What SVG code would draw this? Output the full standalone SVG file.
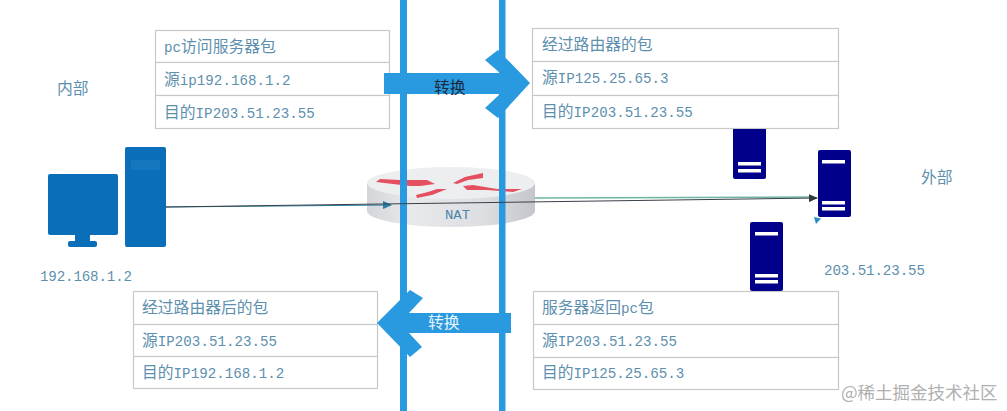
<svg xmlns="http://www.w3.org/2000/svg" width="1007" height="411" viewBox="0 0 1007 411">
<style>
text{font-family:"Liberation Mono","Noto Sans CJK SC",monospace;font-size:14.200px;fill:#5d8fae}
.c{font-family:"Noto Sans CJK SC","Liberation Sans",sans-serif;font-size:15.800px}
.cell{fill:#fff;stroke:#c8c8c8;stroke-width:1.200}
.bar{fill:#2a9ae0}
.srv{fill:#00008b}
.st{fill:#fff}
.pc{fill:#0a6fb8}
</style>
<defs>
<marker id="ad" markerWidth="9" markerHeight="8" refX="8" refY="4" orient="auto" markerUnits="userSpaceOnUse"><path d="M0 0L9 4L0 8Z" fill="#2f3a3a"/></marker>
<marker id="ab" markerWidth="9" markerHeight="8" refX="8" refY="4" orient="auto" markerUnits="userSpaceOnUse"><path d="M0 0L9 4L0 8Z" fill="#2a7fa8"/></marker>
<linearGradient id="side"><stop offset="0" stop-color="#d3d5d9"/><stop offset=".25" stop-color="#e8e9eb"/><stop offset=".7" stop-color="#dcdee1"/><stop offset="1" stop-color="#c4c6cb"/></linearGradient>
</defs>
<rect width="1007" height="411" fill="#fff"/>

<g id="router">
<path d="M367 183V211A84 16 0 0 0 535 211V183Z" fill="url(#side)"/>
<ellipse cx="451" cy="183" rx="84" ry="16" fill="#eceef0"/>
<g fill="#e4505f">
<path d="M376 182L380 179L400 180L427 180L435 184L420 186L410 186Z"/>
<path d="M416 195L417 198L432 195L447 189L437 189L428 192Z"/>
<path d="M453 183L465 177L483 173L483 178L468 180L457 184Z"/>
<path d="M463 186L473 185L497 189L522 189L513 192L487 190L467 190Z"/>
</g>
<text x="445" y="219" style="font-size:13px;fill:#4f86a8" textLength="25" lengthAdjust="spacingAndGlyphs">NAT</text>
</g>

<g id="divider-left"><rect class="bar" x="400" y="0" width="7" height="411"/></g>
<g id="divider-right"><rect class="bar" x="499" y="0" width="6.500" height="411"/></g>

<g id="box-pc-to-server">
<rect class="cell" x="155.500" y="30.500" width="234" height="32"/>
<rect class="cell" x="155.500" y="62.500" width="234" height="33"/>
<rect class="cell" x="155.500" y="95.500" width="234" height="33"/>
<text x="164" y="52">pc<tspan class="c">访问服务器包</tspan></text>
<text x="164" y="85"><tspan class="c">源</tspan>ip192.168.1.2</text>
<text x="164" y="118"><tspan class="c">目的</tspan>IP203.51.23.55</text>
</g>
<g id="box-after-router">
<rect class="cell" x="532.500" y="28.500" width="306" height="33"/>
<rect class="cell" x="532.500" y="61.500" width="306" height="34"/>
<rect class="cell" x="532.500" y="95.500" width="306" height="33"/>
<text x="542" y="50"><tspan class="c">经过路由器的包</tspan></text>
<text x="542" y="83"><tspan class="c">源</tspan>IP125.25.65.3</text>
<text x="542" y="117"><tspan class="c">目的</tspan>IP203.51.23.55</text>
</g>
<g id="box-after-router-back">
<rect class="cell" x="133.500" y="291.500" width="244" height="33"/>
<rect class="cell" x="133.500" y="324.500" width="244" height="32"/>
<rect class="cell" x="133.500" y="356.500" width="244" height="32"/>
<text x="142" y="313"><tspan class="c">经过路由器后的包</tspan></text>
<text x="142" y="346"><tspan class="c">源</tspan>IP203.51.23.55</text>
<text x="142" y="378"><tspan class="c">目的</tspan>IP192.168.1.2</text>
</g>
<g id="box-server-return">
<rect class="cell" x="533.500" y="291.500" width="305" height="33"/>
<rect class="cell" x="533.500" y="324.500" width="305" height="33"/>
<rect class="cell" x="533.500" y="357.500" width="305" height="32"/>
<text x="542" y="313"><tspan class="c">服务器返回</tspan>pc<tspan class="c">包</tspan></text>
<text x="542" y="346"><tspan class="c">源</tspan>IP203.51.23.55</text>
<text x="542" y="378"><tspan class="c">目的</tspan>IP125.25.65.3</text>
</g>

<g id="arrow-right">
<path class="bar" d="M384 73H500L485 60L498 50L530 83L498 118L485 108L500 94H384Z"/>
<text x="434" y="93" class="c" style="fill:#1a2a40">转换</text>
</g>
<g id="arrow-left">
<path class="bar" d="M377 323L410 290L423 298L409 313H511V333H409L422 347L410 357Z"/>
<text x="428" y="328" class="c" style="fill:#e8f4fc">转换</text>
</g>

<g id="pc">
<rect class="pc" x="48" y="174" width="70" height="61" rx="2"/>
<rect class="pc" x="75" y="235" width="15" height="7"/>
<rect class="pc" x="68" y="241" width="29" height="6" rx="2"/>
<rect class="pc" x="125" y="147" width="41" height="100" rx="2"/>
<rect x="131" y="160" width="29" height="10" fill="#1577bd"/>
</g>
<g id="server-a">
<path class="srv" d="M733 129H766V177Q766 179 764 179H735Q733 179 733 177Z"/>
<rect class="st" x="738" y="162" width="23" height="3.500"/>
<rect class="st" x="738" y="169" width="23" height="3.500"/>
</g>
<g id="server-b">
<rect class="srv" x="818" y="150" width="33" height="67" rx="2"/>
<rect class="st" x="822" y="160" width="23" height="3.500"/>
<rect class="st" x="822" y="201" width="23" height="3.500"/>
<rect class="st" x="822" y="207" width="23" height="3.500"/>
<path d="M814 217L821 218.500L816 224Z" fill="#2a8fc0"/>
</g>
<g id="server-c">
<rect class="srv" x="750" y="222" width="33" height="69" rx="2"/>
<rect class="st" x="755" y="232" width="23" height="3.500"/>
<rect class="st" x="755" y="274" width="23" height="3.500"/>
<rect class="st" x="755" y="280" width="23" height="3.500"/>
</g>

<g id="connectors" fill="none">
<path d="M165 207L391 205" stroke="#2a7fa8" stroke-width="1" marker-end="url(#ab)"/>
<path d="M535 198L812 197" stroke="#6fb5a0" stroke-width="1.500"/>
<path d="M165 207L817 198" stroke="#3a4048" stroke-width="1.200" marker-end="url(#ad)"/>
</g>

<text class="c" x="57" y="94">内部</text>
<text class="c" x="921" y="183">外部</text>
<text x="40" y="281" textLength="92">192.168.1.2</text>
<text x="824" y="275" textLength="101">203.51.23.55</text>
<text class="c" x="841" y="399" style="font-size:17.500px;fill:#b0b0b0">@稀土掘金技术社区</text>
</svg>
